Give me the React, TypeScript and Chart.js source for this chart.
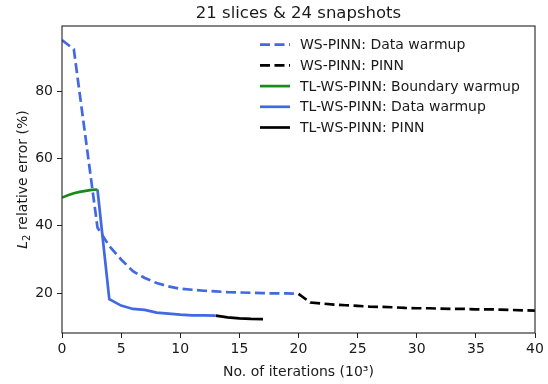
import React, { useEffect, useRef } from "react";
import { Chart, registerables } from "chart.js";

Chart.register(...registerables);

// Iterations are in thousands, errors in percent.
const wsWarmupX = [0, 1, 2, 3, 4, 5, 6, 7, 8, 9, 10, 11, 12, 13, 14, 15, 16, 17, 18, 19, 20];
const wsWarmupY = [95.2, 92.5, 66, 39.5, 34, 30, 26.5, 24.5, 23, 22, 21.3, 21, 20.7, 20.5, 20.3, 20.2, 20.1, 20, 19.9, 19.9, 19.8];

const wsPinnX = [20, 21, 22, 23, 24, 25, 26, 27, 28, 29, 30, 31, 32, 33, 34, 35, 36, 37, 38, 39, 40];
const wsPinnY = [19.8, 17.2, 16.9, 16.6, 16.4, 16.2, 16.0, 15.9, 15.8, 15.6, 15.5, 15.5, 15.4, 15.3, 15.3, 15.2, 15.2, 15.1, 15.0, 14.9, 14.8];

const tlBoundaryX = [0, 0.5, 1, 1.5, 2, 2.5, 3];
const tlBoundaryY = [48.4, 49.1, 49.7, 50.1, 50.4, 50.7, 50.8];

const tlWarmupX = [3, 4, 5, 6, 7, 8, 9, 10, 11, 12, 13];
const tlWarmupY = [50.8, 18.2, 16.3, 15.3, 15.0, 14.2, 13.9, 13.6, 13.4, 13.4, 13.3];

const tlPinnX = [13, 14, 15, 16, 17];
const tlPinnY = [13.3, 12.8, 12.5, 12.35, 12.3];

const xTicks = [0, 5, 10, 15, 20, 25, 30, 35, 40];
const yTicks = [20, 40, 60, 80];

const titleText = "21 slices & 24 snapshots";
const xLabel = "No. of iterations (10³)";

const FONT = "'DejaVu Sans', 'Liberation Sans', sans-serif";
const BLUE = "#4169e1";
const GREEN = "#1a8a1a";
const INK = "#1a1a1a";

const series = [
  { label: "WS-PINN: Data warmup", xs: wsWarmupX, ys: wsWarmupY, color: BLUE, dash: [10, 4.5] },
  { label: "WS-PINN: PINN", xs: wsPinnX, ys: wsPinnY, color: "#000000", dash: [10, 4.5] },
  { label: "TL-WS-PINN: Boundary warmup", xs: tlBoundaryX, ys: tlBoundaryY, color: GREEN, dash: [] as number[] },
  { label: "TL-WS-PINN: Data warmup", xs: tlWarmupX, ys: tlWarmupY, color: BLUE, dash: [] as number[] },
  { label: "TL-WS-PINN: PINN", xs: tlPinnX, ys: tlPinnY, color: "#000000", dash: [] as number[] },
];

const decorations = {
  id: "decorations",
  afterDraw(chart: any) {
    const { ctx, chartArea } = chart;
    const { left, right, top, bottom } = chartArea;
    ctx.save();

    // axes frame
    ctx.strokeStyle = "#222";
    ctx.lineWidth = 1.1;
    ctx.strokeRect(left, top, right - left, bottom - top);

    // title
    ctx.fillStyle = INK;
    ctx.font = `16.5px ${FONT}`;
    ctx.textAlign = "center";
    ctx.textBaseline = "alphabetic";
    ctx.fillText(titleText, (left + right) / 2, 18);

    // x axis label
    ctx.font = `14px ${FONT}`;
    ctx.fillText(xLabel, (left + right) / 2, 376);

    // y axis label with italic L and subscript 2
    ctx.translate(27, (top + bottom) / 2);
    ctx.rotate(-Math.PI / 2);
    ctx.textAlign = "left";
    const italic = `italic 14px ${FONT}`;
    const normal = `14px ${FONT}`;
    const small = `10px ${FONT}`;
    const rest = " relative error (%)";
    ctx.font = italic;
    const wL = ctx.measureText("L").width;
    ctx.font = small;
    const w2 = ctx.measureText("2").width;
    ctx.font = normal;
    const wR = ctx.measureText(rest).width;
    let x0 = -(wL + w2 + wR) / 2;
    ctx.font = italic;
    ctx.fillText("L", x0, 0);
    x0 += wL;
    ctx.font = small;
    ctx.fillText("2", x0, 3);
    x0 += w2;
    ctx.font = normal;
    ctx.fillText(rest, x0, 0);
    ctx.setTransform(1, 0, 0, 1, 0, 0);

    // legend
    ctx.font = `14px ${FONT}`;
    ctx.textBaseline = "middle";
    ctx.textAlign = "left";
    series.forEach((s, i) => {
      const y = top + 18.7 + i * 20.7;
      ctx.beginPath();
      ctx.setLineDash(s.dash);
      ctx.strokeStyle = s.color;
      ctx.lineWidth = 2.7;
      ctx.moveTo(260, y);
      ctx.lineTo(290, y);
      ctx.stroke();
      ctx.setLineDash([]);
      ctx.fillStyle = INK;
      ctx.fillText(s.label, 300, y + 1);
    });
    ctx.restore();
  },
};

export default function App() {
  const canvasRef = useRef<HTMLCanvasElement | null>(null);

  useEffect(() => {
    document.body.style.margin = "0";
    const canvas = canvasRef.current;
    if (!canvas) return;

    const chart = new Chart(canvas, {
      type: "line",
      data: {
        datasets: series.map((s) => ({
          label: s.label,
          data: s.xs.map((x, i) => ({ x, y: s.ys[i] })),
          borderColor: s.color,
          backgroundColor: s.color,
          borderWidth: 2.7,
          borderDash: s.dash,
          pointRadius: 0,
          tension: 0,
          fill: false,
        })),
      },
      options: {
        responsive: false,
        animation: false,
        devicePixelRatio: 1,
        layout: { padding: { left: 0, right: 13, top: 26, bottom: 0 } },
        plugins: {
          legend: { display: false },
          title: { display: false },
          tooltip: { enabled: false },
        },
        scales: {
          x: {
            type: "linear",
            min: 0,
            max: 40,
            afterBuildTicks: (scale: any) => {
              scale.ticks = xTicks.map((v) => ({ value: v }));
            },
            afterFit: (scale: any) => {
              scale.height = 51;
            },
            grid: {
              drawOnChartArea: false,
              drawTicks: true,
              tickLength: 5,
              tickWidth: 1,
              tickColor: "#222",
            },
            border: { display: false },
            ticks: {
              color: INK,
              font: { family: FONT, size: 14 },
              padding: 3,
              maxRotation: 0,
            },
          },
          y: {
            type: "linear",
            min: 8.15,
            max: 99.4,
            afterBuildTicks: (scale: any) => {
              scale.ticks = yTicks.map((v) => ({ value: v }));
            },
            afterFit: (scale: any) => {
              scale.width = 62;
            },
            grid: {
              drawOnChartArea: false,
              drawTicks: true,
              tickLength: 5,
              tickWidth: 1,
              tickColor: "#222",
            },
            border: { display: false },
            ticks: {
              color: INK,
              font: { family: FONT, size: 14 },
              padding: 4,
            },
          },
        },
      },
      plugins: [decorations],
    });

    return () => chart.destroy();
  }, []);

  return (
    <div style={{ width: 548, height: 384, background: "#fff" }}>
      <canvas ref={canvasRef} width={548} height={384} />
    </div>
  );
}
